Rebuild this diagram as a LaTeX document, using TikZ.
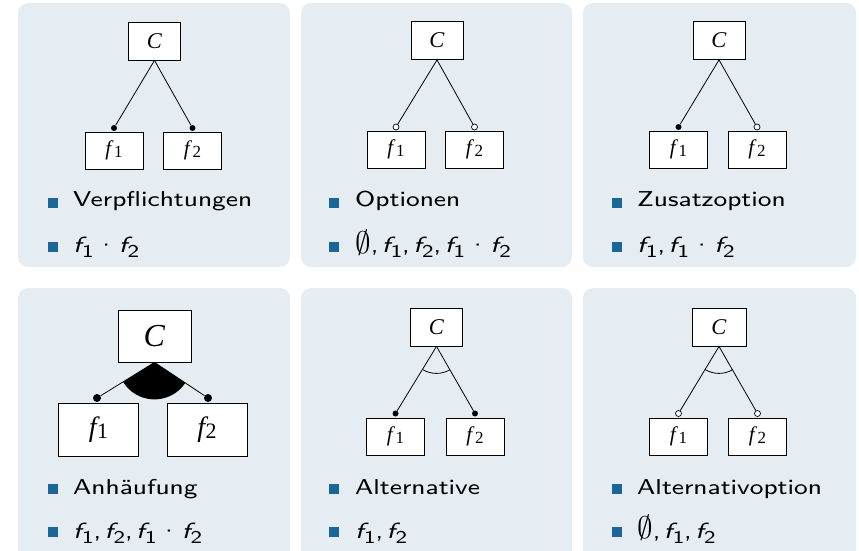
\documentclass[tikz,border=0pt]{standalone}
\usepackage{fontspec}
\usepackage{graphicx}
\newfontfamily\timesf{Liberation Serif}
\newfontfamily\bsans{lmsans8-regular}[Extension=.otf, ItalicFont=lmsans8-oblique, FakeStretch=1.2]
\definecolor{panelbg}{HTML}{E5EDF3}
\definecolor{bulletc}{HTML}{1A6699}
\newcommand\fv[1]{{\fontsize{22}{24}\selectfont\itshape f}\kern0.3pt\raisebox{-5pt}{\fontsize{18}{18}\selectfont #1}}
\newcommand\boxf[1]{\textit{f}\kern0.3pt\raisebox{-1.5pt}{\fontsize{17}{17}\selectfont #1}}
\newcommand\bigf[1]{{\fontsize{28}{28}\selectfont\itshape f}\kern0.5pt\raisebox{-2pt}{\fontsize{22}{22}\selectfont #1}}
\newcommand\cm{,\hspace{3.5pt}}
\newcommand\md{\hspace{2pt}\textperiodcentered\hspace{2pt}}
\newcommand\es{\raisebox{-0.5pt}{\scalebox{1.5}{$\emptyset$}}}
\tikzset{
 panel/.style={fill=panelbg, draw=none, rounded corners=10pt},
 featbox/.style={draw=black, fill=white, line width=0.8pt, minimum width=58pt, minimum height=37pt, inner sep=0pt, font=\timesf\fontsize{21}{21}\selectfont},
 rootbox/.style={featbox, minimum width=52pt, minimum height=38pt, font=\timesf\fontsize{22.5}{22.5}\selectfont},
 bigbox/.style={featbox, minimum width=80pt, minimum height=53pt},
 bigroot/.style={featbox, minimum width=73pt, minimum height=52pt, font=\timesf\fontsize{32}{32}\selectfont},
 conn/.style={line width=0.8pt, draw=black},
 mand/.style={circle, fill=black, inner sep=0pt, minimum size=6pt},
 opt/.style={circle, fill=white, draw=black, line width=0.7pt, inner sep=0pt, minimum size=6pt},
 bigmand/.style={mand, minimum size=8pt},
 bul/.style={fill=bulletc, minimum size=10pt, inner sep=0pt, anchor=south west},
 itemtxt/.style={anchor=base west, inner sep=0pt, font=\bsans\fontsize{21.5}{24}\selectfont}
}
\begin{document}
\begin{tikzpicture}[x=1pt,y=-1pt]
\useasboundingbox (0,0) rectangle (859,550);
% panels
\fill[panel] (18,3) rectangle (290,267);
\fill[panel] (301,3) rectangle (572,267);
\fill[panel] (583,3) rectangle (856,267);
\fill[panel] (18,288) rectangle (290,570);
\fill[panel] (301,288) rectangle (572,570);
\fill[panel] (583,288) rectangle (856,570);

% ---------- panel 1: Verpflichtungen
\node[rootbox] (c1) at (154.5,41) {\textit{C}};
\node[featbox] (a1) at (114,150.5) {\boxf{1}};
\node[featbox] (b1) at (192.5,150.5) {\boxf{2}};
\node[mand] (da1) at (114,128) {};
\node[mand] (db1) at (192.5,128) {};
\draw[conn] (c1.south) -- (da1);
\draw[conn] (c1.south) -- (db1);
\node[bul] (p1) at (47.5,208) {};
\node[itemtxt] (t1) at (73,206.5) {Verpflichtungen};
\node[bul] (q1) at (47.5,252) {};
\node[itemtxt] (u1) at (73,252.5) {\fv{1}\md\fv{2}};

% ---------- panel 2: Optionen
\node[rootbox] (c2) at (437,40.5) {\textit{C}};
\node[featbox] (a2) at (396,149.5) {\boxf{1}};
\node[featbox] (b2) at (474.5,149.5) {\boxf{2}};
\node[opt] (da2) at (396,127) {};
\node[opt] (db2) at (474.5,127) {};
\draw[conn] (c2.south) -- (da2);
\draw[conn] (c2.south) -- (db2);
\node[bul] (p2) at (329,208) {};
\node[itemtxt] (t2) at (355,206.5) {Optionen};
\node[bul] (q2) at (329,252) {};
\node[itemtxt] (u2) at (355,252.5) {\es\cm\fv{1}\cm\fv{2}\cm\fv{1}\md\fv{2}};

% ---------- panel 3: Zusatzoption
\node[rootbox] (c3) at (719,40.5) {\textit{C}};
\node[featbox] (a3) at (678.5,149.5) {\boxf{1}};
\node[featbox] (b3) at (757,149.5) {\boxf{2}};
\node[mand] (da3) at (678.5,127) {};
\node[opt] (db3) at (757,127) {};
\draw[conn] (c3.south) -- (da3);
\draw[conn] (c3.south) -- (db3);
\node[bul] (p3) at (612,208) {};
\node[itemtxt] (t3) at (637,206.5) {Zusatzoption};
\node[bul] (q3) at (612,252) {};
\node[itemtxt] (u3) at (637,252.5) {\fv{1}\cm\fv{1}\md\fv{2}};

% ---------- panel 4: Anhaeufung
\node[bigroot] (c4) at (154.5,336) {\textit{C}};
\node[bigbox] (a4) at (98.5,429.5) {\bigf{1}};
\node[bigbox] (b4) at (207,429.5) {\bigf{2}};
\node[bigmand] (da4) at (97,398) {};
\node[bigmand] (db4) at (208,398) {};
\draw[conn] (c4.south) -- (da4);
\draw[conn] (c4.south) -- (db4);
\fill[black] (c4.south) -- ++(33.7:37) arc[start angle=33.7, end angle=147.7, radius=37] -- cycle;
\node[bul] (p4) at (47.5,494.5) {};
\node[itemtxt] (t4) at (73,494.5) {Anhäufung};
\node[bul] (q4) at (47.5,537.5) {};
\node[itemtxt] (u4) at (73,538) {\fv{1}\cm\fv{2}\cm\fv{1}\md\fv{2}};

% ---------- panel 5: Alternative
\node[rootbox] (c5) at (436.5,327) {\textit{C}};
\node[featbox] (a5) at (395.5,436.5) {\boxf{1}};
\node[featbox] (b5) at (475,436.5) {\boxf{2}};
\node[mand] (da5) at (395.5,413.5) {};
\node[mand] (db5) at (475,413.5) {};
\draw[conn] (c5.south) -- (da5);
\draw[conn] (c5.south) -- (db5);
\draw[conn] (c5.south) ++(60.4:27) arc[start angle=60.4, end angle=121.5, radius=27];
\node[bul] (p5) at (329,494.5) {};
\node[itemtxt] (t5) at (355,494.5) {Alternative};
\node[bul] (q5) at (329,537.5) {};
\node[itemtxt] (u5) at (355,538) {\fv{1}\cm\fv{2}};

% ---------- panel 6: Alternativoption
\node[rootbox, minimum width=54pt] (c6) at (719,327) {\textit{C}};
\node[featbox] (a6) at (678.5,436.5) {\boxf{1}};
\node[featbox] (b6) at (757.5,436.5) {\boxf{2}};
\node[opt] (da6) at (678.5,413.5) {};
\node[opt] (db6) at (757.5,413.5) {};
\draw[conn] (c6.south) -- (da6);
\draw[conn] (c6.south) -- (db6);
\draw[conn] (c6.south) ++(60.4:27) arc[start angle=60.4, end angle=121.5, radius=27];
\node[bul] (p6) at (612,494.5) {};
\node[itemtxt] (t6) at (637,494.5) {Alternativoption};
\node[bul] (q6) at (612,537.5) {};
\node[itemtxt] (u6) at (637,538) {\es\cm\fv{1}\cm\fv{2}};
\end{tikzpicture}
\end{document}
